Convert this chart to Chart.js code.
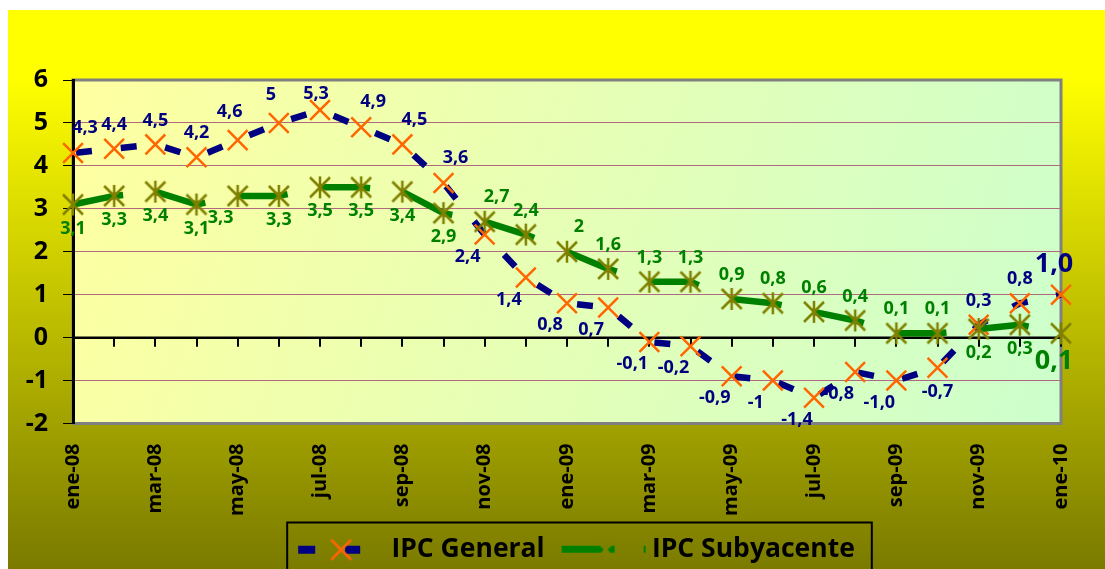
<!DOCTYPE html>
<html>
<head>
<meta charset="utf-8">
<script src="https://cdn.jsdelivr.net/npm/chart.js@4/dist/chart.umd.min.js"></script>
<style>
  html, body { margin: 0; padding: 0; background: #fff; }
  #wrap { position: absolute; left: 8px; top: 10px; width: 1097px; height: 559px; }
</style>
</head>
<body>
<div id="wrap"><canvas id="ipc" width="1097" height="559"></canvas></div>
<script>
// months, ene-08 .. ene-10
var months = ['ene-08','feb-08','mar-08','abr-08','may-08','jun-08','jul-08','ago-08','sep-08','oct-08','nov-08','dic-08',
              'ene-09','feb-09','mar-09','abr-09','may-09','jun-09','jul-09','ago-09','sep-09','oct-09','nov-09','dic-09','ene-10'];

var ipcGeneral    = [4.3, 4.4, 4.5, 4.2, 4.6, 5.0, 5.3, 4.9, 4.5, 3.6, 2.4, 1.4, 0.8, 0.7, -0.1, -0.2, -0.9, -1.0, -1.4, -0.8, -1.0, -0.7, 0.3, 0.8, 1.0];
var ipcSubyacente = [3.1, 3.3, 3.4, 3.1, 3.3, 3.3, 3.5, 3.5, 3.4, 2.9, 2.7, 2.4, 2.0, 1.6, 1.3, 1.3, 0.9, 0.8, 0.6, 0.4, 0.1, 0.1, 0.2, 0.3, 0.1];

// label texts as printed on the chart
var generalText    = ['4,3','4,4','4,5','4,2','4,6','5','5,3','4,9','4,5','3,6','2,4','1,4','0,8','0,7','-0,1','-0,2','-0,9','-1','-1,4','-0,8','-1,0','-0,7','0,3','0,8','1,0'];
var subyacenteText = ['3,1','3,3','3,4','3,1','3,3','3,3','3,5','3,5','3,4','2,9','2,7','2,4','2','1,6','1,3','1,3','0,9','0,8','0,6','0,4','0,1','0,1','0,2','0,3','0,1'];

// where each value label sits relative to its point
var generalLabelPos    = ['NE','N','N','N','NW','NW','n','NE','NE','NE','SW','SW','SW','SW','SW','SW','SW','SW','SW','SW','SW','S','N','N','N'];
var subyacenteLabelPos = ['S','S','S','S','SW','S','S','S','S','S','NE','N','NE','N','N','N','N','N','N','N','N','N','S','S','S'];

var FONT = '"Open Sans", Lato, sans-serif';
var NAVY = '#000080', ORANGE = '#FF6600', GREEN = '#008000', OLIVE = '#808000';

// star marker (X with a vertical bar), like the Excel one
function drawStar(g, cx, cy) {
  g.strokeStyle = OLIVE; g.lineWidth = 2.5;
  g.beginPath();
  g.moveTo(cx - 10, cy - 10); g.lineTo(cx + 10, cy + 10);
  g.moveTo(cx + 10, cy - 10); g.lineTo(cx - 10, cy + 10);
  g.moveTo(cx, cy - 11); g.lineTo(cx, cy + 11);
  g.stroke();
}
var starImg = document.createElement('canvas');
starImg.width = 24; starImg.height = 24;
drawStar(starImg.getContext('2d'), 12, 12);

// legend samples: line + marker (96 wide, drawn centred on an 80px box)
function legendSample(kind) {
  var c = document.createElement('canvas');
  c.width = 96; c.height = 24;
  var g = c.getContext('2d');
  if (kind === 'general') {
    g.fillStyle = NAVY;
    g.fillRect(8, 8, 17, 8);
    g.fillRect(55, 8, 15, 8);
    g.strokeStyle = ORANGE; g.lineWidth = 2.5;
    g.beginPath();
    g.moveTo(41, 2); g.lineTo(61, 22);
    g.moveTo(61, 2); g.lineTo(41, 22);
    g.stroke();
  } else {
    g.fillStyle = GREEN;
    g.fillRect(11, 8, 53, 7);
    g.fillRect(93, 8, 2, 7);
    drawStar(g, 55, 12);
  }
  return c;
}

var bgPlugin = {
  id: 'bgPlugin',
  beforeDraw: function (chart) {
    var ctx = chart.ctx, a = chart.chartArea;
    ctx.save();
    var g = ctx.createLinearGradient(0, 0, 0, chart.height);
    g.addColorStop(0, '#FFFF00');
    g.addColorStop(0.12, '#FFFF00');
    g.addColorStop(1, '#7A7A00');
    ctx.fillStyle = g;
    ctx.fillRect(0, 0, chart.width, chart.height);

    var p = ctx.createLinearGradient(a.left, a.top, a.right, a.bottom);
    p.addColorStop(0, '#FFFFA0');
    p.addColorStop(1, '#CCFFCC');
    ctx.fillStyle = p;
    ctx.fillRect(a.left, a.top, a.right - a.left, a.bottom - a.top);
    ctx.strokeStyle = '#808080';
    ctx.lineWidth = 3;
    ctx.strokeRect(a.left, a.top, a.right - a.left, a.bottom - a.top);
    ctx.restore();
  }
};

// category axis crossing at 0, with a tick mark at every month
var zeroAxis = {
  id: 'zeroAxis',
  beforeDatasetsDraw: function (chart) {
    var ctx = chart.ctx, a = chart.chartArea;
    var x = chart.scales.x, y = chart.scales.y;
    var y0 = y.getPixelForValue(0);
    ctx.save();
    ctx.strokeStyle = '#000';
    ctx.lineWidth = 2.5;
    ctx.beginPath();
    ctx.moveTo(a.left, y0); ctx.lineTo(a.right, y0);
    ctx.stroke();
    ctx.lineWidth = 2;
    ctx.beginPath();
    for (var i = 0; i < months.length; i++) {
      var px = Math.round(x.getPixelForValue(i));
      ctx.moveTo(px, y0); ctx.lineTo(px, y0 + 9);
    }
    ctx.stroke();
    ctx.restore();
  }
};

var OFFS = { N: [0, -24], n: [-4, -16], NE: [12, -25], NW: [-8, -28], S: [0, 24], SW: [-17, 22] };

var valueLabels = {
  id: 'valueLabels',
  afterDatasetsDraw: function (chart) {
    var ctx = chart.ctx;
    var sets = [
      { idx: 0, text: generalText, pos: generalLabelPos, color: NAVY },
      { idx: 1, text: subyacenteText, pos: subyacenteLabelPos, color: GREEN }
    ];
    ctx.save();
    ctx.textAlign = 'center';
    ctx.textBaseline = 'middle';
    sets.forEach(function (s) {
      var pts = chart.getDatasetMeta(s.idx).data;
      ctx.fillStyle = s.color;
      pts.forEach(function (pt, i) {
        var last = i === pts.length - 1;
        var o = OFFS[s.pos[i]];
        var dx = o[0], dy = o[1];
        if (last) { dx = -7; dy = dy < 0 ? -30 : 28; }
        ctx.font = 'bold ' + (last ? 27 : 18) + 'px ' + FONT;
        ctx.fillText(s.text[i], pt.x + dx, pt.y + dy);
      });
    });
    ctx.restore();
  }
};

// the legend sits a little right of the canvas centre; shift it and frame it
var LEGEND_SHIFT = 34;
var legendBox = {
  id: 'legendBox',
  afterUpdate: function (chart) {
    var lg = chart.legend;
    if (!lg) return;
    lg.left += LEGEND_SHIFT;
    lg.right += LEGEND_SHIFT;
    (lg.legendHitBoxes || []).forEach(function (h) { h.left += LEGEND_SHIFT; });
  },
  afterDraw: function (chart) {
    var lg = chart.legend;
    if (!lg || !lg.legendHitBoxes || !lg.legendHitBoxes.length) return;
    var hb = lg.legendHitBoxes;
    var first = hb[0], last = hb[hb.length - 1];
    var ctx = chart.ctx;
    ctx.save();
    ctx.strokeStyle = '#000';
    ctx.lineWidth = 2;
    var l = first.left - 11, r = last.left + last.width + 17;
    ctx.strokeRect(l, lg.top, r - l, chart.height);
    ctx.restore();
  }
};

new Chart(document.getElementById('ipc').getContext('2d'), {
  type: 'line',
  data: {
    labels: months,
    datasets: [{
      label: 'IPC General',
      data: ipcGeneral,
      borderColor: NAVY,
      borderWidth: 6.5,
      borderDash: [16, 29],
      borderDashOffset: -3,
      tension: 0,
      fill: false,
      pointStyle: 'crossRot',
      pointRadius: 14,
      pointHoverRadius: 14,
      pointBorderColor: ORANGE,
      pointBorderWidth: 2.5,
      pointBackgroundColor: 'rgba(0,0,0,0)',
      order: 2
    }, {
      label: 'IPC Subyacente',
      data: ipcSubyacente,
      borderColor: GREEN,
      borderWidth: 6.5,
      tension: 0,
      fill: false,
      // long dash: a full stroke on one month, a short stub on the next
      segment: {
        borderDash: function (c) { return c.p0DataIndex % 2 ? [9, 2000] : []; }
      },
      pointStyle: starImg,
      pointRadius: 12,
      order: 1
    }]
  },
  options: {
    responsive: false,
    animation: false,
    layout: { padding: { left: 10, right: 38, top: 70, bottom: -4 } },
    plugins: {
      tooltip: { enabled: false },
      legend: {
        position: 'bottom',
        labels: {
          usePointStyle: true,
          pointStyleWidth: 80,
          padding: 14,
          color: '#000',
          font: { family: FONT, size: 26.5, weight: 'bold' },
          generateLabels: function (chart) {
            return chart.data.datasets.map(function (ds, i) {
              return {
                text: ds.label,
                datasetIndex: i,
                pointStyle: legendSample(i === 0 ? 'general' : 'sub'),
                fontColor: '#000',
                lineWidth: 0,
                strokeStyle: 'rgba(0,0,0,0)',
                fillStyle: 'rgba(0,0,0,0)',
                hidden: false
              };
            });
          }
        }
      }
    },
    scales: {
      x: {
        type: 'category',
        offset: false,
        grid: { display: false, drawTicks: false },
        border: { display: false },
        afterFit: function (s) { s.height = 99; },
        ticks: {
          autoSkip: false,
          minRotation: 90,
          maxRotation: 90,
          padding: 20,
          color: '#000',
          font: { family: FONT, size: 20, weight: 'bold' },
          callback: function (v, i) { return i % 2 ? '' : months[i]; }
        }
      },
      y: {
        min: -2,
        max: 6,
        afterFit: function (s) { s.width = 55; },
        grid: {
          color: function (c) {
            var v = c.tick && c.tick.value;
            return (v === 6 || v === -2 || v === 0) ? 'rgba(0,0,0,0)' : '#B06A80';
          },
          lineWidth: 1,
          tickColor: '#000',
          tickLength: 10,
          drawTicks: true
        },
        border: { display: true, color: '#000', width: 3 },
        ticks: {
          stepSize: 1,
          padding: 15,
          color: '#000',
          font: { family: FONT, size: 25, weight: 'bold' }
        }
      }
    }
  },
  plugins: [bgPlugin, zeroAxis, valueLabels, legendBox]
});
</script>
</body>
</html>
